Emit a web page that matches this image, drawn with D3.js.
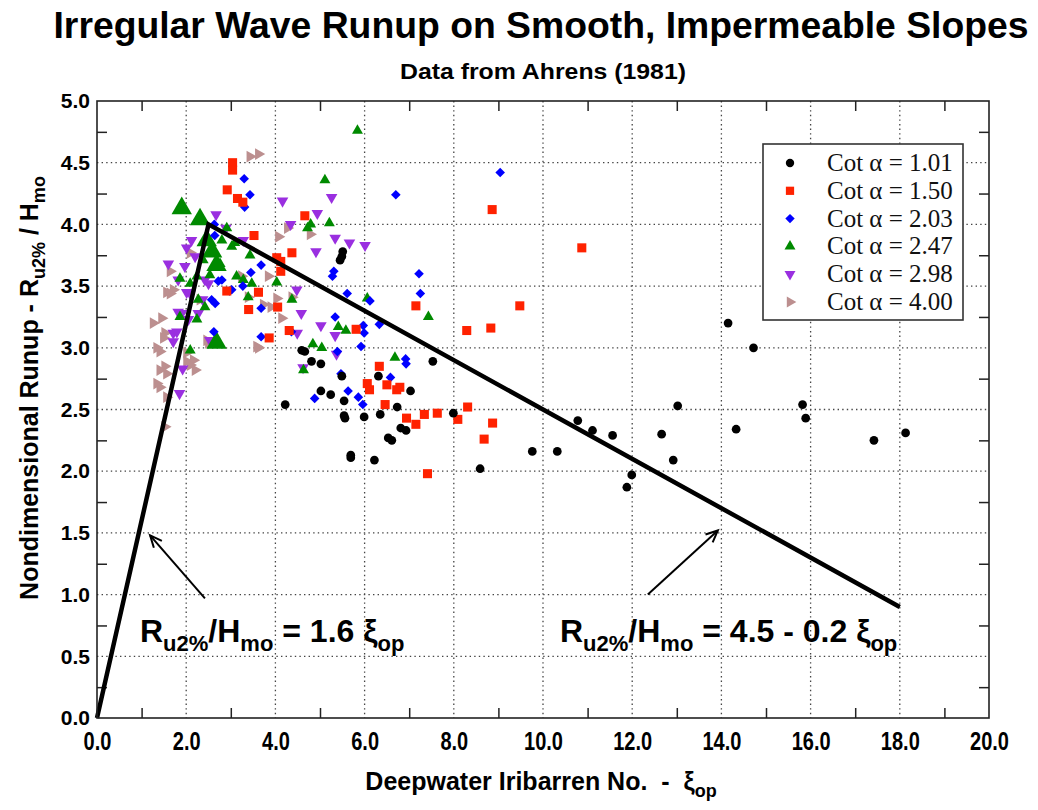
<!DOCTYPE html>
<html><head><meta charset="utf-8">
<script src="https://cdn.jsdelivr.net/npm/d3@7"></script>
<style>body{margin:0;background:#fff}svg{display:block}</style>
</head><body>
<svg id="c" width="1038" height="810"></svg>
<script>
// ---------- DATA ----------
const xTicks = [0,2,4,6,8,10,12,14,16,18,20];
const yTicks = [0,0.5,1,1.5,2,2.5,3,3.5,4,4.5,5];
const xMinor = [1,3,5,7,9,11,13,15,17,19];
const yMinor = [0.25,0.75,1.25,1.75,2.25,2.75,3.25,3.75,4.25,4.75];
const xGrid = [2,4,6,8,10,12,14,16,18];
const yGrid = [0.5,1,1.5,2,2.5,3,3.5,4,4.5];

const seriesLabels = ["Cot \u03b1 = 1.01","Cot \u03b1 = 1.50","Cot \u03b1 = 2.03","Cot \u03b1 = 2.47","Cot \u03b1 = 2.98","Cot \u03b1 = 4.00"];

const cot101 = [[14.15,3.20],[14.72,3.00],[9.76,2.16],[10.32,2.16],[10.78,2.41],[11.11,2.33],[11.56,2.29],[11.99,1.97],[11.88,1.87],[12.66,2.30],[12.92,2.09],[13.02,2.53],[14.33,2.34],[15.82,2.54],[15.89,2.43],[17.42,2.25],[18.13,2.31],[4.22,2.54],[4.59,2.98],[4.66,2.97],[4.81,2.89],[5.02,2.87],[5.49,2.77],[5.02,2.65],[5.24,2.62],[5.54,2.57],[5.54,2.45],[5.56,2.43],[5.99,2.44],[5.69,2.13],[5.69,2.11],[6.22,2.09],[6.31,2.77],[6.35,2.46],[6.73,2.52],[7.03,2.65],[6.81,2.35],[6.93,2.33],[6.53,2.27],[6.61,2.25],[7.53,2.89],[7.99,2.47],[8.59,2.02],[5.51,3.78],[5.49,3.74],[5.45,3.71]];

const cot150 = [[3.04,4.50],[3.04,4.44],[2.92,4.28],[3.15,4.21],[3.27,4.18],[4.66,4.07],[3.52,3.91],[4.37,3.77],[4.03,3.73],[4.12,3.70],[4.12,3.62],[3.62,3.45],[2.91,3.46],[3.40,3.31],[4.05,3.33],[4.31,3.14],[3.86,3.08],[5.81,3.15],[6.33,2.85],[7.15,3.34],[9.48,3.34],[8.29,3.14],[8.83,3.16],[10.87,3.81],[8.86,4.12],[6.06,2.71],[6.11,2.66],[6.50,2.70],[6.72,2.66],[6.79,2.68],[6.46,2.54],[6.94,2.43],[7.15,2.38],[7.34,2.46],[7.63,2.47],[8.09,2.42],[8.31,2.52],[8.87,2.39],[8.68,2.26],[7.41,1.98]];

const cot203 = [[3.30,4.37],[3.43,4.24],[3.31,4.14],[2.63,4.00],[2.64,3.91],[3.68,3.67],[3.45,3.61],[2.72,3.54],[2.80,3.55],[2.97,3.46],[3.27,3.50],[3.02,3.47],[2.57,3.39],[2.65,3.36],[3.68,3.32],[2.62,3.13],[3.68,3.09],[4.36,3.13],[5.31,3.62],[5.28,3.58],[5.61,3.44],[6.12,3.38],[5.34,3.25],[5.97,3.18],[5.99,3.12],[6.33,3.19],[5.92,3.01],[5.39,2.97],[5.47,2.79],[6.70,4.24],[7.22,3.60],[7.25,3.44],[6.92,2.91],[6.93,2.87],[6.58,2.76],[5.63,2.65],[4.88,2.59],[5.86,2.60],[5.96,2.54],[9.04,4.42]];

const cot247 = [[5.84,4.76],[5.11,4.36],[5.21,4.01],[4.79,4.00],[4.72,3.97],[2.91,3.97],[3.09,3.85],[3.43,3.75],[3.13,3.58],[3.39,3.41],[3.47,3.52],[2.09,2.98],[1.86,3.25],[2.24,3.23],[2.09,3.52],[2.27,3.39],[2.42,3.33],[4.03,3.53],[2.38,3.71],[1.86,3.56],[2.24,3.58],[3.28,3.55],[4.37,3.39],[6.06,3.40],[7.43,3.25],[5.41,3.17],[5.58,3.14],[4.84,3.03],[5.04,3.00],[6.68,2.92],[4.63,2.82],[3.02,3.82],[2.76,3.68],[2.53,3.59],[2.80,3.87]];
// cot 2.47 points plotted with the larger marker in the source
const cot247Big = [[1.90,4.13],[2.31,4.04],[2.46,3.87],[2.58,3.78],[2.68,3.67],[2.68,3.04]];

const cot298 = [[2.67,4.08],[2.12,3.87],[2.01,3.81],[2.20,3.74],[1.60,3.68],[1.97,3.66],[2.89,3.97],[4.16,4.19],[3.28,3.87],[1.82,3.55],[2.01,3.45],[2.09,3.44],[2.42,3.55],[2.50,3.52],[1.82,3.29],[1.90,3.28],[2.27,3.28],[1.71,3.12],[1.79,3.13],[2.53,3.06],[1.92,2.83],[1.85,2.63],[2.37,3.39],[2.05,3.23],[1.71,3.05],[4.94,4.09],[4.34,4.00],[5.34,3.89],[5.66,3.85],[6.01,3.83],[4.91,3.78],[4.48,3.47],[4.58,3.28],[5.02,3.18],[4.49,3.12],[5.34,3.10],[5.37,2.95],[4.62,2.84],[5.26,4.22]];

const cot400 = [[3.43,4.55],[3.62,4.57],[4.07,3.90],[4.27,3.97],[4.78,3.92],[3.24,3.58],[3.39,3.41],[3.73,3.35],[3.90,3.33],[3.62,3.00],[4.14,3.24],[2.46,3.06],[2.50,3.04],[2.09,3.77],[1.64,3.62],[1.64,3.44],[1.71,3.47],[1.56,3.45],[1.26,3.20],[1.45,3.24],[1.52,3.12],[1.49,3.08],[1.34,3.00],[1.41,2.97],[1.52,2.85],[1.41,2.82],[1.56,2.79],[1.34,2.71],[1.41,2.68],[1.56,2.60],[2.01,2.89],[2.16,2.90],[2.09,2.86],[2.20,2.82],[2.31,3.39],[1.52,2.36],[3.84,3.58],[4.03,3.40],[4.37,3.41],[3.58,3.01],[2.01,2.96]];

// design curve: R/H = 1.6 xi up to xi=2.5, then 4.5 - 0.2 xi up to xi=18
const designCurve = [[0,0],[2.5,4.0],[18,0.9]];
const arrowLeft = [[2.42,0.97],[1.19,1.48]];
const arrowRight = [[12.35,1.00],[13.92,1.52]];

// ---------- DRAW ----------
const svg = d3.select("#c");
const W = 1038, H = 810;
const L = 97, R = 989, T = 101, B = 718;
const x = d3.scaleLinear().domain([0,20]).range([L,R]);
const y = d3.scaleLinear().domain([0,5]).range([B,T]);
const narrow = "'Liberation Sans Narrow','Arial Narrow','Liberation Sans',sans-serif";
const sans = "'Liberation Sans',Arial,sans-serif";
const serif = "'Liberation Serif','Times New Roman',serif";

svg.append("rect").attr("width",W).attr("height",H).attr("fill","#fff");

// grid
const grid = svg.append("g").attr("stroke","#444").attr("stroke-width",1.3).attr("stroke-dasharray","1.4,3.2");
grid.selectAll(".gx").data(xGrid).join("line").attr("x1",d=>x(d)).attr("x2",d=>x(d)).attr("y1",T).attr("y2",B);
grid.selectAll(".gy").data(yGrid).join("line").attr("y1",d=>y(d)).attr("y2",d=>y(d)).attr("x1",L).attr("x2",R);

// inside minor ticks on four sides
function styleTicks(g){ g.select(".domain").remove(); g.selectAll("line").attr("stroke","#222").attr("stroke-width",1.5); }
svg.append("g").attr("transform",`translate(0,${B})`).call(d3.axisBottom(x).tickValues(xMinor).tickSize(-10).tickFormat("")).call(styleTicks);
svg.append("g").attr("transform",`translate(0,${T})`).call(d3.axisTop(x).tickValues(xMinor).tickSize(-10).tickFormat("")).call(styleTicks);
svg.append("g").attr("transform",`translate(${L},0)`).call(d3.axisLeft(y).tickValues(yMinor).tickSize(-10).tickFormat("")).call(styleTicks);
svg.append("g").attr("transform",`translate(${R},0)`).call(d3.axisRight(y).tickValues(yMinor).tickSize(-10).tickFormat("")).call(styleTicks);

// tick labels
const xa = svg.append("g").attr("transform",`translate(0,${B})`)
  .call(d3.axisBottom(x).tickValues(xTicks).tickSize(0).tickPadding(14).tickFormat(d3.format(".1f")));
xa.select(".domain").remove();
xa.selectAll("text").attr("font-family",narrow).attr("font-weight","bold").attr("font-size",25).attr("fill","#000").attr("transform","scale(0.8,1)");
const ya = svg.append("g").attr("transform",`translate(${L},0)`)
  .call(d3.axisLeft(y).tickValues(yTicks).tickSize(0).tickPadding(7).tickFormat(d3.format(".1f")));
ya.select(".domain").remove();
ya.selectAll("text").attr("font-family",sans).attr("font-weight","bold").attr("font-size",21).attr("fill","#000");

// markers
function mark(type, size, rot){ return {path:d3.symbol().type(type).size(size)(), rot}; }
const series = [
  {data:cot400, color:"#bc8f8f", m:mark(d3.symbolTriangle,60,90)},
  {data:cot298, color:"#9a2fe0", m:mark(d3.symbolTriangle,58,180)},
  {data:cot247, color:"#008a00", m:mark(d3.symbolTriangle,52,0)},
  {data:cot247Big, color:"#008a00", m:mark(d3.symbolTriangle,180,0)},
  {data:cot203, color:"#0000ff", m:mark(d3.symbolSquare,46,45)},
  {data:cot150, color:"#ff2200", m:mark(d3.symbolSquare,82,0)},
  {data:cot101, color:"#000000", m:mark(d3.symbolCircle,60,0)}
];
const pts = svg.append("g");
series.forEach(s=>{
  pts.append("g").selectAll("path").data(s.data).join("path")
    .attr("d",s.m.path).attr("fill",s.color)
    .attr("transform",d=>`translate(${x(d[0])},${y(d[1])}) rotate(${s.m.rot})`);
});

// design curve
svg.append("path").datum(designCurve)
  .attr("d",d3.line().x(d=>x(d[0])).y(d=>y(d[1])))
  .attr("fill","none").attr("stroke","#000").attr("stroke-width",4.5).attr("stroke-linejoin","miter");

// arrows
function arrow(a){
  const x0=x(a[0][0]),y0=y(a[0][1]),x1=x(a[1][0]),y1=y(a[1][1]);
  const ang=Math.atan2(y1-y0,x1-x0), hl=13, hw=0.42;
  const g=svg.append("g").attr("stroke","#000").attr("stroke-width",2).attr("fill","none");
  g.append("line").attr("x1",x0).attr("y1",y0).attr("x2",x1).attr("y2",y1);
  g.append("path").attr("d",`M${x1-hl*Math.cos(ang-hw)},${y1-hl*Math.sin(ang-hw)} L${x1},${y1} L${x1-hl*Math.cos(ang+hw)},${y1-hl*Math.sin(ang+hw)}`);
}
arrow(arrowLeft); arrow(arrowRight);

// frame
svg.append("rect").attr("x",L).attr("y",T).attr("width",R-L).attr("height",B-T)
  .attr("fill","none").attr("stroke","#222").attr("stroke-width",1.6);

// formula annotations
function formula(x0,y0,mid){
  const t=svg.append("text").attr("x",x0).attr("y",y0).attr("font-family",sans).attr("font-weight","bold").attr("font-size",32).attr("fill","#000").style("white-space","pre");
  t.append("tspan").text("R");
  t.append("tspan").attr("font-size",22).attr("dy",9).text("u2%");
  t.append("tspan").attr("dy",-9).text("/H");
  t.append("tspan").attr("font-size",22).attr("dy",9).text("mo");
  t.append("tspan").attr("dy",-9).text(mid+"\u03be");
  t.append("tspan").attr("font-size",22).attr("dy",9).text("op");
}
formula(140,642," = 1.6 ");
formula(560,642," = 4.5 - 0.2 ");

// legend
const lg = svg.append("g");
lg.append("rect").attr("x",763).attr("y",144).attr("width",200).attr("height",176).attr("fill","#fff").attr("stroke","#333").attr("stroke-width",1.6);
const legendMarks = [
  {color:"#000000", m:mark(d3.symbolCircle,55,0)},
  {color:"#ff2200", m:mark(d3.symbolSquare,68,0)},
  {color:"#0000ff", m:mark(d3.symbolSquare,44,45)},
  {color:"#008a00", m:mark(d3.symbolTriangle,52,0)},
  {color:"#9a2fe0", m:mark(d3.symbolTriangle,52,180)},
  {color:"#bc8f8f", m:mark(d3.symbolTriangle,52,90)}
];
seriesLabels.forEach((lab,i)=>{
  const cy = 163 + i*27.8;
  lg.append("path").attr("d",legendMarks[i].m.path).attr("fill",legendMarks[i].color)
    .attr("transform",`translate(790,${cy}) rotate(${legendMarks[i].m.rot})`);
  lg.append("text").attr("x",827).attr("y",cy+8).attr("font-family",serif).attr("font-size",25).attr("fill","#111").text(lab);
});

// titles
svg.append("text").attr("x",541).attr("y",38).attr("text-anchor","middle").attr("font-family",narrow).attr("font-weight","bold").attr("font-size",37).attr("textLength",975).attr("lengthAdjust","spacingAndGlyphs").text("Irregular Wave Runup on Smooth, Impermeable Slopes");
svg.append("text").attr("x",543).attr("y",79).attr("text-anchor","middle").attr("font-family",narrow).attr("font-weight","bold").attr("font-size",22).attr("textLength",286).attr("lengthAdjust","spacingAndGlyphs").text("Data from Ahrens (1981)");

// x title
const xt = svg.append("text").attr("x",541).attr("y",790).attr("text-anchor","middle").attr("font-family",narrow).attr("font-weight","bold").attr("font-size",25).style("white-space","pre");
xt.append("tspan").text("Deepwater Iribarren No.  -  \u03be");
xt.append("tspan").attr("font-size",18).attr("dy",7).text("op");

// y title
const yt = svg.append("text").attr("transform","translate(38,388) rotate(-90)").attr("text-anchor","middle").attr("font-family",sans).attr("font-weight","bold").attr("font-size",25);
yt.append("tspan").text("Nondimensional Runup - R");
yt.append("tspan").attr("font-size",18).attr("dy",7).text("u2%");
yt.append("tspan").attr("dy",-7).text(" / H");
yt.append("tspan").attr("font-size",18).attr("dy",7).text("mo");
</script>
</body></html>
